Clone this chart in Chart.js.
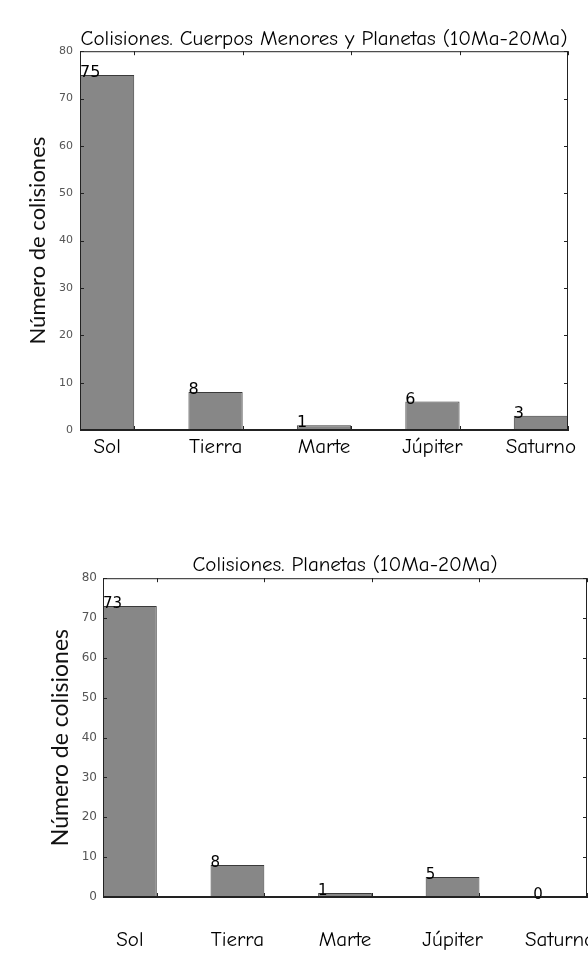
<!DOCTYPE html>
<html>
<head>
<meta charset="utf-8">
<script src="https://cdn.jsdelivr.net/npm/chart.js@4/dist/chart.umd.min.js"></script>
<style>
  html, body { margin: 0; padding: 0; background: #fff; overflow: hidden; width: 588px; height: 956px; }
  canvas { position: absolute; left: 0; }
  #top { top: 0; }
  #bottom { top: 480px; }
</style>
</head>
<body>
<canvas id="top" width="588" height="470"></canvas>
<canvas id="bottom" width="630" height="476"></canvas>
<script>
// data
const categories = ['Sol', 'Tierra', 'Marte', 'Júpiter', 'Saturno'];
const menoresYPlanetas = [75, 8, 1, 6, 3];
const soloPlanetas = [73, 8, 1, 5, 0];
const yTicks = [0, 10, 20, 30, 40, 50, 60, 70, 80];

const comic = '"Comic Sans MS", "Comic Neue", "Noto Sans", sans-serif';

// number over the left edge of each bar, like the matplotlib text() calls
const valueLabels = {
  id: 'valueLabels',
  afterDatasetsDraw(chart, args, opts) {
    const ctx = chart.ctx;
    const meta = chart.getDatasetMeta(0);
    const values = chart.data.datasets[0].data;
    ctx.save();
    ctx.font = opts.size + 'px "DejaVu Sans", sans-serif';
    ctx.fillStyle = '#000';
    ctx.textAlign = 'left';
    ctx.textBaseline = 'alphabetic';
    meta.data.forEach((bar, i) => {
      const p = bar.getProps(['x', 'y', 'width'], true);
      ctx.fillText(String(values[i].y), p.x - p.width / 2, p.y + 2);
    });
    ctx.restore();
  }
};

// box around the plot and the little inward ticks
const frame = {
  id: 'frame',
  afterDraw(chart) {
    const { ctx, chartArea: a, scales } = chart;
    ctx.save();
    ctx.strokeStyle = '#222';
    ctx.lineWidth = 1;
    ctx.strokeRect(a.left + 0.5, a.top + 0.5, a.width - 1, a.height - 1);
    ctx.beginPath();
    yTicks.forEach(v => {
      const y = Math.round(scales.y.getPixelForValue(v)) + 0.5;
      ctx.moveTo(a.left, y); ctx.lineTo(a.left + 4, y);
      ctx.moveTo(a.right, y); ctx.lineTo(a.right - 4, y);
    });
    categories.forEach((c, i) => {
      const x = Math.round(scales.x.getPixelForValue(i + 0.25)) + 0.5;
      ctx.moveTo(x, a.top); ctx.lineTo(x, a.top + 4);
      ctx.moveTo(x, a.bottom); ctx.lineTo(x, a.bottom - 4);
    });
    ctx.stroke();
    ctx.restore();
  }
};

function makeChart(id, values, title, o) {
  const ctx = document.getElementById(id).getContext('2d');
  return new Chart(ctx, {
    type: 'bar',
    data: {
      datasets: [{
        data: values.map((v, i) => ({ x: i, y: v })),
        backgroundColor: '#878787',
        borderColor: '#3a3a3a',
        borderWidth: 1,
        barPercentage: 0.5,
        categoryPercentage: 1.0
      }]
    },
    options: {
      responsive: false,
      animation: false,
      layout: { padding: { left: 0, right: o.padRight, top: 0, bottom: 0 } },
      plugins: {
        legend: { display: false },
        tooltip: { enabled: false },
        title: {
          display: true,
          fullSize: false,
          text: title,
          color: '#000',
          font: { family: comic, size: o.titleSize, weight: 'normal' },
          padding: { top: o.titleTop, bottom: o.titleBottom }
        },
        valueLabels: { size: o.valueSize }
      },
      scales: {
        x: {
          type: 'linear',
          min: -0.25,
          max: 4.25,
          offset: false,
          grid: { display: false, drawTicks: false },
          border: { display: true, color: '#222' },
          afterBuildTicks: axis => { axis.ticks = categories.map((c, i) => ({ value: i })); },
          afterFit: scale => { scale.height = o.xHeight; },
          ticks: {
            autoSkip: false,
            maxRotation: 0,
            padding: o.xPad,
            color: '#000',
            font: { family: comic, size: 21 },
            callback: v => categories[v]
          }
        },
        y: {
          min: 0,
          max: 80,
          grid: { display: false, drawTicks: false },
          border: { display: true, color: '#222' },
          afterFit: scale => { scale.width = o.yWidth; },
          ticks: {
            stepSize: 10,
            padding: o.yPad,
            color: '#555',
            font: { family: '"DejaVu Sans", sans-serif', size: o.tickSize }
          },
          title: {
            display: true,
            text: 'Número de colisiones',
            color: '#111',
            font: { family: 'Lato, "Open Sans", sans-serif', size: o.yTitleSize },
            padding: { top: o.yTitlePad, bottom: 0 }
          }
        }
      }
    },
    plugins: [valueLabels, frame]
  });
}

makeChart('top', menoresYPlanetas, 'Colisiones. Cuerpos Menores y Planetas (10Ma-20Ma)', {
  padRight: 20, titleSize: 21, titleTop: 26, titleBottom: 0,
  xHeight: 40, xPad: 4, yWidth: 80, yPad: 7, tickSize: 11, yTitleSize: 22, yTitlePad: 25, valueSize: 16
});

makeChart('bottom', soloPlanetas, 'Colisiones. Planetas (10Ma-20Ma)', {
  padRight: 43, titleSize: 21, titleTop: 72, titleBottom: 1,
  xHeight: 59, xPad: 30, yWidth: 103, yPad: 6, tickSize: 12, yTitleSize: 23, yTitlePad: 47, valueSize: 15
});
</script>
</body>
</html>
